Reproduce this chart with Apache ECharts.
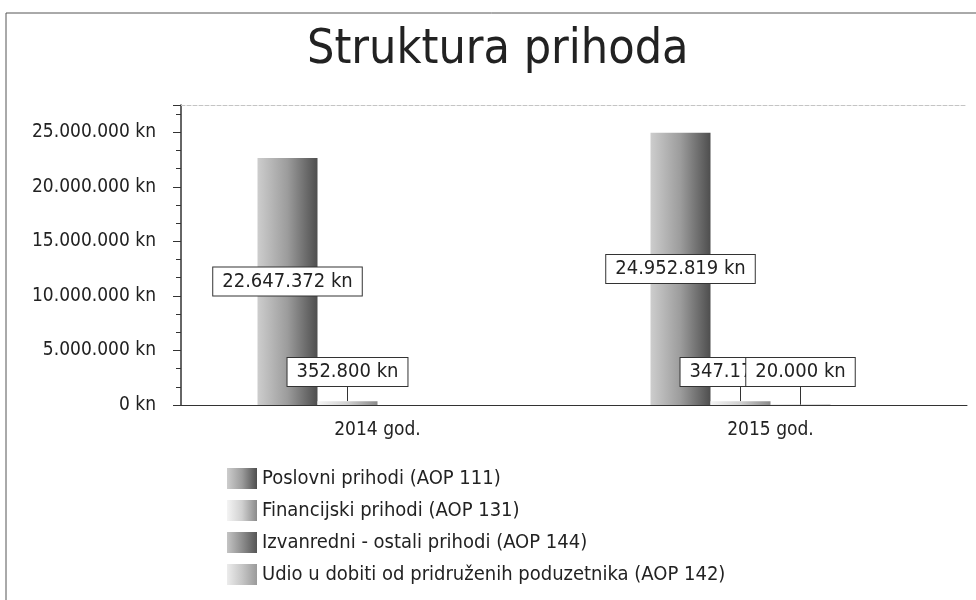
<!DOCTYPE html>
<html>
<head>
<meta charset="utf-8">
<title>Struktura prihoda</title>
<script src="https://cdn.jsdelivr.net/npm/echarts@6/dist/echarts.min.js"></script>
<style>
html,body{margin:0;padding:0;background:#fff}
#main{width:976px;height:600px}
</style>
</head>
<body>
<div id="main"></div>
<script>
// podaci
var categories = ['2014 god.', '2015 god.'];
var seriesNames = [
	'Poslovni prihodi (AOP 111)',
	'Financijski prihodi (AOP 131)',
	'Izvanredni - ostali prihodi (AOP 144)',
	'Udio u dobiti od pridruženih poduzetnika (AOP 142)'
];
var poslovni    = [22647372, 24952819];
var financijski = [352800, 347175];
var izvanredni  = [0, 20000];
var udio        = [0, 0];
var yMax = 27500000;
var yStep = 5000000;
var yLastLabel = 25000000;

var FONT = "'DejaVu Sans Condensed', 'DejaVu Sans', sans-serif";

function kn(v){
	return String(Math.round(v)).replace(/\B(?=(\d{3})+(?!\d))/g, '.') + ' kn';
}

function grad(c0, c1, c2){
	return new echarts.graphic.LinearGradient(0, 0, 1, 0, [
		{offset: 0, color: c0},
		{offset: 0.5, color: c1},
		{offset: 1, color: c2}
	]);
}

function items(arr){
	return arr.map(function(v){
		return v === 0 ? {value: v, label: {show: false}} : v;
	});
}

var boxLabel = {
	show: true,
	formatter: function(p){ return kn(p.value); },
	backgroundColor: '#fff',
	borderColor: '#333',
	borderWidth: 1,
	padding: [4, 9],
	color: '#222',
	fontFamily: FONT,
	fontSize: 20
};

function smallSeries(name, arr, color){
	return {
		name: name,
		type: 'bar',
		barWidth: 60,
		barGap: '0%',
		itemStyle: {color: color},
		label: Object.assign({}, boxLabel, {position: 'top', distance: 0}),
		// mali stupci: okvir iznad, spojen crticom
		labelLayout: function(p){
			return {dy: -15 - Math.max(0, 4 - p.rect.height)};
		},
		labelLine: {show: true, lineStyle: {color: '#333', width: 1}},
		data: items(arr)
	};
}

var minorSlots = ['', '', '', '', '', '', '', '', '', ''];

var myChart = echarts.init(document.getElementById('main'));
var option = {
	backgroundColor: '#fff',
	animation: false,
	title: {
		text: 'Struktura prihoda',
		left: 307,
		top: 27,
		padding: 0,
		textStyle: {fontFamily: FONT, fontSize: 48, fontWeight: 'normal', color: '#222'}
	},
	graphic: [
		{type: 'rect', z: -1, shape: {x: 6, y: 13, width: 1000, height: 1000},
		 style: {fill: null, stroke: '#555', lineWidth: 1}}
	],
	legend: {
		orient: 'vertical',
		left: 222,
		top: 463,
		itemWidth: 30,
		itemHeight: 21,
		itemGap: 11,
		icon: 'rect',
		textStyle: {fontFamily: FONT, fontSize: 20, color: '#222'},
		data: seriesNames
	},
	grid: {left: 181, right: 9, top: 105, bottom: 195},
	xAxis: [
		{
			type: 'category',
			data: categories,
			axisLine: {lineStyle: {color: '#333', width: 1}},
			axisTick: {alignWithLabel: true, length: 10, lineStyle: {color: '#333'}},
			axisLabel: {fontFamily: FONT, fontSize: 19, color: '#222', margin: 16}
		},
		{
			type: 'category',
			data: minorSlots,
			position: 'bottom',
			axisLine: {show: false},
			axisTick: {alignWithLabel: true, length: 5, lineStyle: {color: '#444'}},
			axisLabel: {show: false}
		},
		{
			type: 'category',
			data: categories,
			position: 'top',
			axisLine: {lineStyle: {color: '#c4c4c4', type: 'dashed'}},
			axisTick: {show: false},
			axisLabel: {show: false}
		}
	],
	yAxis: {
		type: 'value',
		min: 0,
		max: yMax,
		interval: yStep,
		axisLine: {show: true, lineStyle: {color: '#333', width: 1.5}},
		axisTick: {show: true, length: 8, lineStyle: {color: '#333'}},
		minorTick: {show: true, splitNumber: 3, length: 5, lineStyle: {color: '#333'}},
		splitLine: {show: false},
		axisLabel: {
			fontFamily: FONT, fontSize: 19, color: '#222', margin: 25,
			formatter: function(v){ return v <= yLastLabel ? kn(v) : ''; }
		}
	},
	series: [
		{
			name: seriesNames[0],
			type: 'bar',
			barWidth: 60,
			barGap: '0%',
			itemStyle: {color: grad('#cdcdcd', '#9c9c9c', '#4e4e4e')},
			label: Object.assign({}, boxLabel, {position: 'inside'}),
			data: items(poslovni)
		},
		smallSeries(seriesNames[1], financijski, grad('#f4f4f4', '#d0d0d0', '#8a8a8a')),
		smallSeries(seriesNames[2], izvanredni, grad('#c4c4c4', '#8e8e8e', '#555555')),
		smallSeries(seriesNames[3], udio, grad('#ececec', '#c6c6c6', '#9a9a9a'))
	]
};
myChart.setOption(option);
</script>
</body>
</html>
